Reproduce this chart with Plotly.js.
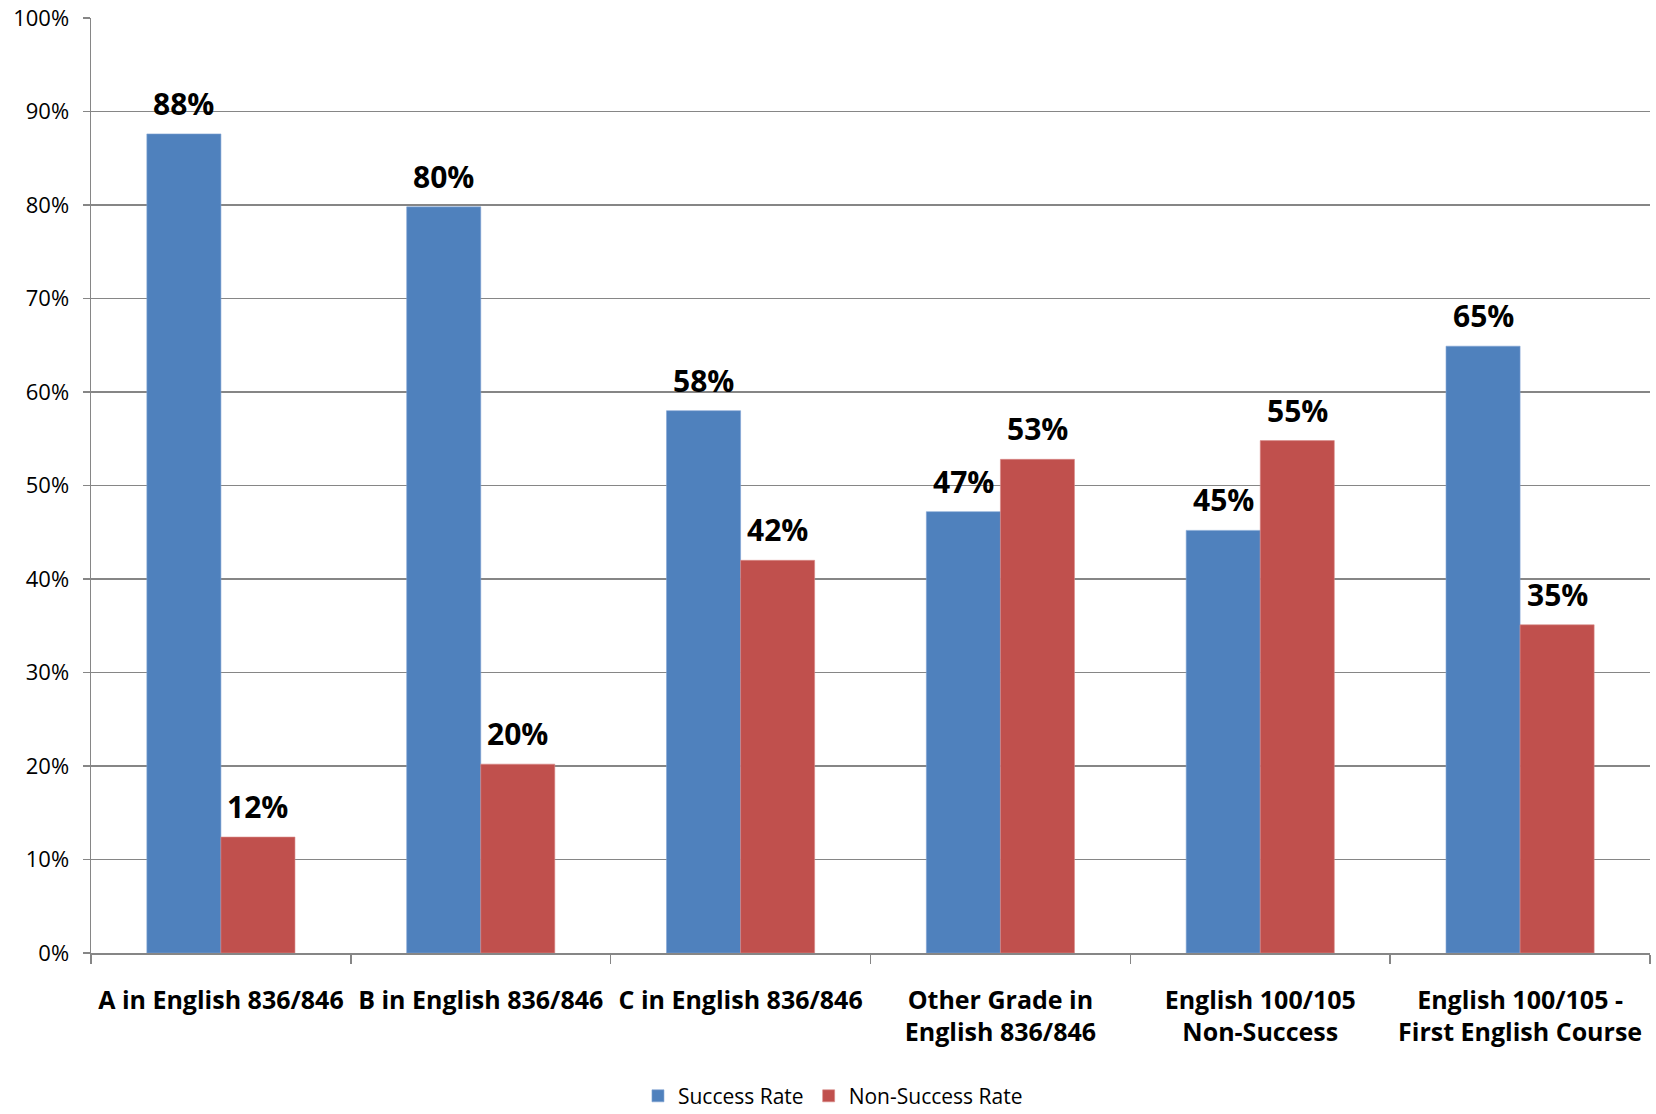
<!DOCTYPE html>
<html>
<head>
<meta charset="utf-8">
<script src="https://cdn.plot.ly/plotly-3.0.1.min.js"></script>
<style>
  html, body { margin: 0; padding: 0; background: #fff; }
  #chart { width: 1656px; height: 1114px; }
</style>
</head>
<body>
<div id="chart"></div>
<script>
// Course outcome categories
const categories = [
  'A in English 836/846',
  'B in English 836/846',
  'C in English 836/846',
  'Other Grade in<br>English 836/846',
  'English 100/105<br>Non-Success',
  'English 100/105 -<br>First English Course'
];

// Rates per category (fractions)
const successRate    = [0.876, 0.798, 0.580, 0.472, 0.452, 0.649];
const nonSuccessRate = [0.124, 0.202, 0.420, 0.528, 0.548, 0.351];

const yTickVals = [0, 0.1, 0.2, 0.3, 0.4, 0.5, 0.6, 0.7, 0.8, 0.9, 1.0];
const yTickText = ['0%', '10%', '20%', '30%', '40%', '50%', '60%', '70%', '80%', '90%', '100%'];

const FONT = '"Open Sans", "Noto Sans", sans-serif';
const BLUE = '#4F81BD';
const RED = '#C0504D';

const traces = [
  {
    type: 'bar', name: 'Success Rate',
    x: categories, y: successRate,
    marker: { color: BLUE, line: { color: '#7FA3D3', width: 0.6 } },
    hoverinfo: 'x+y'
  },
  {
    type: 'bar', name: 'Non-Success Rate',
    x: categories, y: nonSuccessRate,
    marker: { color: RED, line: { color: '#D98A88', width: 0.6 } },
    hoverinfo: 'x+y'
  }
];

// Value labels above each bar, offset to sit over their bar within the group
const BAR_HALF = 37;
const annotations = [];
[successRate, nonSuccessRate].forEach((series, si) => {
  series.forEach((v, i) => {
    annotations.push({
      x: categories[i], y: v, xref: 'x', yref: 'y',
      xshift: si === 0 ? -BAR_HALF : BAR_HALF,
      yshift: 8,
      yanchor: 'bottom', xanchor: 'center',
      text: Math.round(v * 100) + '%',
      showarrow: false,
      font: { family: FONT, size: 30, color: '#000', weight: 'bold' }
    });
  });
});

const layout = {
  width: 1656, height: 1114,
  margin: { l: 91, r: 6, t: 18, b: 161 },
  paper_bgcolor: '#fff', plot_bgcolor: '#fff',
  font: { family: FONT, color: '#000' },
  barmode: 'group',
  bargap: 0.43,
  bargroupgap: 0,
  showlegend: true,
  legend: {
    orientation: 'h',
    xref: 'container', yref: 'container',
    x: 0.503, xanchor: 'center',
    y: 0.016, yanchor: 'middle',
    font: { family: FONT, size: 21, color: '#000' },
    itemwidth: 30,
    tracegroupgap: 0
  },
  xaxis: {
    type: 'category',
    tickson: 'boundaries',
    ticks: 'outside', ticklen: 9, tickwidth: 1.5, tickcolor: '#868686',
    showline: true, linecolor: '#868686', linewidth: 1.5,
    showgrid: false,
    ticklabelstandoff: 24,
    tickfont: { family: FONT, size: 25, color: '#000', weight: 'bold' },
    fixedrange: true
  },
  yaxis: {
    range: [0, 1],
    tickvals: yTickVals, ticktext: yTickText,
    ticks: 'outside', ticklen: 7, tickwidth: 1.5, tickcolor: '#868686',
    showline: true, linecolor: '#868686', linewidth: 1.5,
    showgrid: true, gridcolor: '#868686', gridwidth: 1.5,
    zeroline: false,
    ticklabelstandoff: 9,
    tickfont: { family: FONT, size: 22, color: '#000' },
    fixedrange: true
  },
  annotations: annotations
};

Plotly.newPlot('chart', traces, layout, { displayModeBar: false, staticPlot: true });
</script>
</body>
</html>
